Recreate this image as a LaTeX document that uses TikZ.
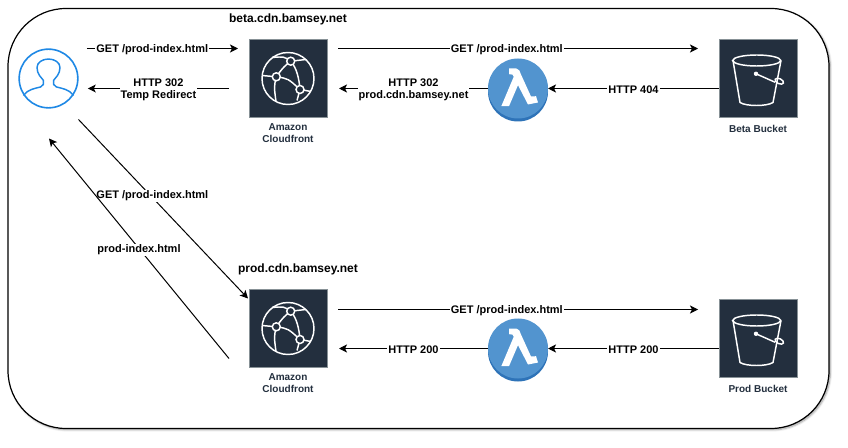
\documentclass[tikz,border=0pt]{standalone}
\usepackage{xcolor}
\usepackage{fontspec}
\setmainfont{Liberation Sans}
\usetikzlibrary{positioning,arrows.meta,shadows,shadows.blur}
\definecolor{awsdark}{HTML}{232F3E}
\definecolor{awsedge}{HTML}{879196}
\definecolor{lambda1}{HTML}{5294CF}
\definecolor{lambda2}{HTML}{2E73B8}
\definecolor{user1}{HTML}{1E88E5}

\begin{document}
\begin{tikzpicture}[
    x=0.75pt, y=-0.75pt,
    frame/.style={draw=black, fill=white, line width=0.9pt, rounded corners=43.5pt,
                  minimum width=615.75pt, minimum height=315pt, outer sep=0pt,
                  blur shadow={shadow blur steps=6, shadow blur radius=1.5pt,
                  shadow xshift=1pt, shadow yshift=-1pt, shadow opacity=40}},
    awsbox/.style={draw=awsedge, fill=awsdark, line width=0.5pt,
                   minimum size=58.5pt, inner sep=0pt, outer sep=0pt},
    lambdanode/.style={circle, fill=lambda1, minimum size=45pt, inner sep=0pt, outer sep=0pt,
                       general shadow={fill=lambda2, shadow xshift=0pt, shadow yshift=-2.25pt}},
    usernode/.style={circle, draw=user1, line width=1.2pt, minimum size=44pt,
                     inner sep=0pt, outer sep=0pt},
    icon/.style={draw=white, line width=1.1pt},
    flow/.style={draw=black, line width=0.75pt,
                 -{Stealth[length=6pt, width=6pt, inset=1.5pt]}},
    lbl/.style={fill=white, font=\bfseries\fontsize{8.25}{9.5}\selectfont, align=center,
                inner sep=0.8pt, text=black, yshift=-1pt},
    capt/.style={font=\bfseries\fontsize{7.5}{9}\selectfont, text=awsdark, align=center,
                 inner sep=0pt},
    host/.style={font=\bfseries\fontsize{9}{11}\selectfont, text=black, inner sep=0pt},
    pics/globeicon/.style={code={
        \draw[icon] (0,0) circle [radius=26];
        \draw[icon] (-11.7,-1.7) .. controls (0,0) .. (12,11);
        \draw[icon] (-11.7,-1.7) .. controls (-6,-10) and (-2,-14) .. (2.7,-17.3);
        \draw[icon] (2.7,-17.3) .. controls (9,-10) and (11,0) .. (12,11);
        \draw[icon] (-11.7,-1.7) .. controls (-14,8) .. (-12,23);
        \draw[icon] (-26,-3) -- (-11.7,-1.7);
        \draw[icon] (2.7,-17.3) .. controls (-4,-22) .. (-16,-21);
        \draw[icon] (2.7,-17.3) -- (18,-19);
        \draw[icon] (12,11) -- (9,22);
        \draw[icon] (12,11) -- (23,13);
        \foreach \cx/\cy in {2.7/-17.3, -11.7/-1.7, 12/11}
            \draw[icon, fill=awsdark] (\cx,\cy) circle [radius=4];
    }},
    pics/bucketicon/.style={code={
        \draw[icon, line join=round] (-25,-18) -- (-18,24)
            .. controls (-12,28) and (9,28) .. (15,24) -- (23,-18);
        \draw[icon] (-1.3,-18) ellipse [x radius=24, y radius=5.5];
        \fill[white] (-2,-4.7) circle [radius=2.2];
        \draw[icon] (-2,-4.7) -- (17,3.7);
        \draw[icon, shift={(21.3,2.7)}, rotate=-25] (0,0) ellipse [x radius=4.5, y radius=2.5];
    }},
    pics/lambdaicon/.style={code={
        \fill[white] (-9,-20) -- (-1.7,-20) .. controls (1,-20) and (2,-17) .. (3,-14)
            -- (13,8) -- (18,7.7) -- (20,14) -- (10,16) -- (0,-3.3) -- (-9,17.7)
            -- (-16.7,17.7) -- (-4.3,-11.7) .. controls (-5,-14) .. (-9,-14.3) -- cycle;
    }},
    pics/usericon/.style={code={
        \draw[user1, line width=1.1pt, line join=round]
            (-25,17) .. controls (-21,11) and (-14,10) .. (-8,8.5)
            .. controls (-5,7.5) and (-4.5,5) .. (-5,2)
            .. controls (-7,-1) and (-11.5,-4) .. (-11.5,-11)
            .. controls (-11.5,-16) and (-6,-19.5) .. (0,-19.5)
            .. controls (6,-19.5) and (11.5,-16) .. (11.5,-11)
            .. controls (11.5,-4) and (7,-1) .. (5,2)
            .. controls (4.5,5) and (5,7.5) .. (8,8.5)
            .. controls (14,10) and (21,11) .. (25,17);
    }},
]
\useasboundingbox (0,-0.5) rectangle (848,447.5);
\node[frame] (frame) at (418.5,218) {};

\node[usernode] (user) at (48.5,78) {};
\pic at (user) {usericon};

% top row
\node[awsbox] (cfbeta) at (288,78) {};
\pic at (cfbeta) {globeicon};
\node[capt, below=4.5pt of cfbeta] (cfbetacapt) {Amazon\\Cloudfront};
\node[host] (betahost) at (288,19) {beta.cdn.bamsey.net};
\node[lambdanode] (lambdabeta) at (518,88) {};
\pic at (lambdabeta) {lambdaicon};
\node[awsbox] (bucketbeta) at (758,78) {};
\pic at (bucketbeta) {bucketicon};
\node[capt, below=5.5pt of bucketbeta] (bucketbetacapt) {Beta Bucket};

% bottom row
\node[awsbox] (cfprod) at (288,328) {};
\pic at (cfprod) {globeicon};
\node[capt, below=4.5pt of cfprod] (cfprodcapt) {Amazon\\Cloudfront};
\node[host] (prodhost) at (298,269) {prod.cdn.bamsey.net};
\node[lambdanode] (lambdaprod) at (518,348) {};
\pic at (lambdaprod) {lambdaicon};
\node[awsbox] (bucketprod) at (758,338) {};
\pic at (bucketprod) {bucketicon};
\node[capt, below=5.5pt of bucketprod] (bucketprodcapt) {Prod Bucket};

\draw[flow] ([shift={(9,-30)}]user.east) -- ([shift={(-11,-30)}]cfbeta.west)
    node[lbl, pos=0.433] {GET /prod-index.html};
\draw[flow] ([shift={(-20,10)}]cfbeta.west) -- ([shift={(10,10)}]user.east)
    node[lbl, midway] {HTTP 302\\Temp Redirect};
\draw[flow] ([shift={(11,-30)}]cfbeta.east) -- ([shift={(-21,-30)}]bucketbeta.west)
    node[lbl, pos=0.469] {GET /prod-index.html};
\draw[flow] (lambdabeta.west) -- ([shift={(12,10)}]cfbeta.east)
    node[lbl, midway] {HTTP 302\\prod.cdn.bamsey.net};
\draw[flow] ([shift={(0,10)}]bucketbeta.west) -- (lambdabeta.east)
    node[lbl, midway] {HTTP 404};

\draw[flow] ([shift={(30,41)}]user.center) -- ([shift={(-1,-30)}]cfprod.west)
    node[lbl, pos=0.42, xshift=2pt] {GET /prod-index.html};
\draw[flow] ([shift={(-20,30)}]cfprod.west) -- ([shift={(0.5,60)}]user.center)
    node[lbl, midway] {prod-index.html};

\draw[flow] ([shift={(11,-19)}]cfprod.east) -- ([shift={(-21,-29)}]bucketprod.west)
    node[lbl, pos=0.469] {GET /prod-index.html};
\draw[flow] (lambdaprod.west) -- ([shift={(12,20)}]cfprod.east)
    node[lbl, midway] {HTTP 200};
\draw[flow] ([shift={(0,10)}]bucketprod.west) -- (lambdaprod.east)
    node[lbl, midway] {HTTP 200};
\end{tikzpicture}
\end{document}
